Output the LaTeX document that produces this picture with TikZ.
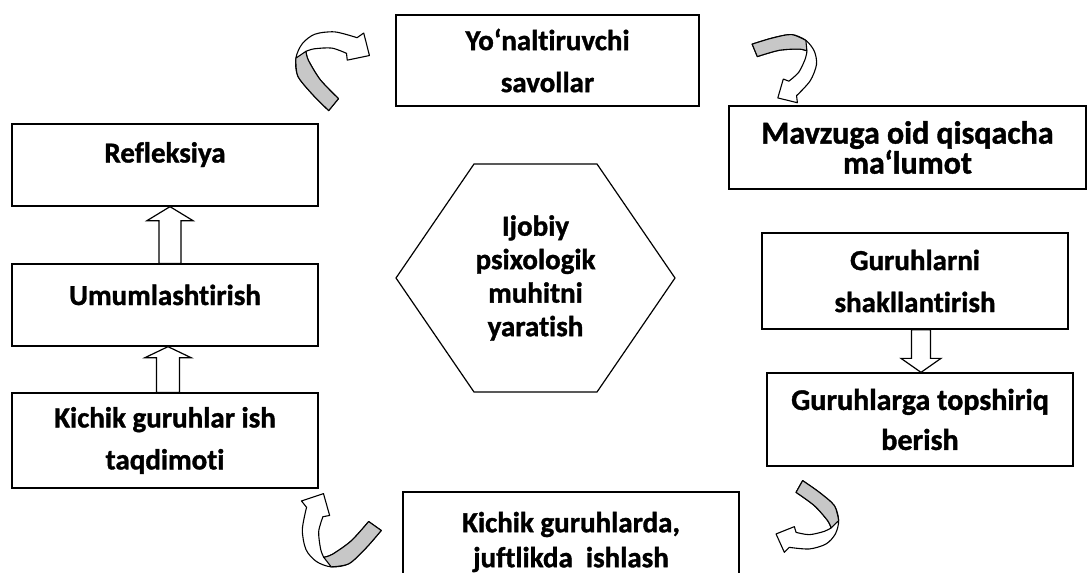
\documentclass[tikz,border=0pt]{standalone}
\usepackage{fontspec}
\setmainfont{Carlito}[Ligatures=NoCommon, BoldFeatures={FakeBold=1.2}]
\usetikzlibrary{calc}

\newcommand{\boxfont}{\fontsize{29}{42}\selectfont\bfseries}

\tikzset{
  box/.style={draw, line width=1.3pt, align=center, font=\boxfont, inner sep=0pt},
  blockarr/.style={draw, fill=white, line width=1.2pt, line join=miter},
  curlline/.style={line width=1.1pt, line join=round},
  curl/.pic={
    \filldraw[curlline, fill=white] plot[smooth] coordinates {(-4.7,-35) (12,-23.3) (27,-10) (31.3,5) (28,18.3) (18.7,28.3) (2,33.3) (-18,31.7)}
      -- (-23,36.7) -- (-31.3,18.3) -- (-13,11)
      -- plot[smooth] coordinates {(-11.3,16.7) (2,19) (17,15.7) (23.7,12.3)}
      -- plot[smooth] coordinates {(23.7,12.3) (20.3,5) (7,-10) (-11.3,-23.3)} -- cycle;
    \filldraw[curlline, fill=black!22] plot[smooth] coordinates {(-4.7,-35) (12,-23.3) (27,-10) (31.3,5)}
      -- (23.7,12.3)
      -- plot[smooth] coordinates {(23.7,12.3) (20.3,5) (7,-10) (-11.3,-23.3)} -- cycle;
  }
}

% #1 tail, #2 tip, #3 half shaft, #4 half head, #5 head length
\newcommand{\blockarrow}[5]{%
  \coordinate (hb) at ($(#2)!#5!(#1)$);
  \draw[blockarr] ($(#1)!#3!90:(#2)$) -- ($(hb)!#3!90:(#2)$) -- ($(hb)!#4!90:(#2)$) -- (#2)
    -- ($(hb)!#4!-90:(#2)$) -- ($(hb)!#3!-90:(#2)$) -- ($(#1)!#3!-90:(#2)$) -- cycle;}

\begin{document}
\begin{tikzpicture}[x=1pt, y=-1pt]
\useasboundingbox (0,0) rectangle (1088,573);
\clip (0,0) rectangle (1088,573);
\fill[white] (0,0) rectangle (1088,573);

\node[box, minimum width=303, minimum height=91] (savol) at (547.5,60.5) {Yo‘naltiruvchi\\savollar};
\node[box, minimum width=357, minimum height=83, font=\fontsize{32}{30}\selectfont\bfseries] (mavzu) at (907.5,147.5) {Mavzuga oid qisqacha\\ma‘lumot};
\node[box, minimum width=306, minimum height=82, text height=21pt, text depth=26pt] (refl) at (165,165) {Refleksiya};
\node[box, minimum width=306, minimum height=82, text height=21pt, text depth=21pt] (umum) at (165,305) {Umumlashtirish};
\node[box, minimum width=306, minimum height=95] (kichik) at (165,440.5) {Kichik guruhlar ish\\taqdimoti};
\node[box, minimum width=306, minimum height=96] (guruh) at (915,281) {Guruhlarni\\shakllantirish};
\node[box, minimum width=306, minimum height=93, font=\fontsize{30}{40}\selectfont\bfseries] (topsh) at (920,419.5) {Guruhlarga topshiriq\\berish};
\node[box, minimum width=336, minimum height=100, font=\fontsize{29}{35}\selectfont\bfseries] (juft) at (571,542) {Kichik guruhlarda,\\juftlikda~ ishlash};

\node[font=\fontsize{29}{33.5}\selectfont\bfseries, align=center] (hex) at (535.5,278) {Ijobiy\\psixologik\\muhitni\\yaratish};
\draw[line width=1.2pt] (hex.center) +(-139.5,0) -- +(-61.5,-114) -- +(61.5,-114) -- +(139.5,0) -- +(61.5,114) -- +(-61.5,114) -- cycle;

\coordinate (a1t) at ([xshift=5pt]umum.north);
\coordinate (a1h) at ([xshift=5pt]refl.south);
\blockarrow{a1t}{a1h}{11pt}{23pt}{14pt}
\coordinate (a2t) at ([xshift=3pt]kichik.north);
\coordinate (a2h) at ([xshift=3pt]umum.south);
\blockarrow{a2t}{a2h}{11.5pt}{23pt}{11pt}
\coordinate (a3t) at ([xshift=6pt]guruh.south);
\coordinate (a3h) at ([xshift=1pt]topsh.north);
\blockarrow{a3t}{a3h}{9.5pt}{20pt}{14pt}

\pic[rotate=170, scale=1.15] at ($(savol.west)+(-65,9.5)$) {curl};
\pic[rotate=52] at ($(savol.east)+(83,1.5)$) {curl};
\pic at ($(topsh.south west)+(41,49)$) {curl};
\pic[rotate=-96, scale=1.15] at ($(kichik.south east)+(22,43)$) {curl};
\end{tikzpicture}
\end{document}
